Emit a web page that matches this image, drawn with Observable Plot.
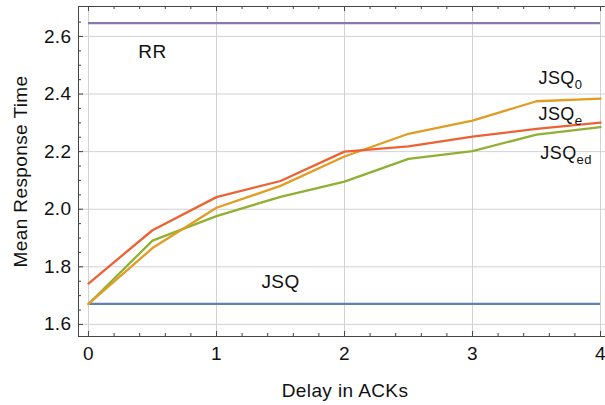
<!DOCTYPE html>
<html><head><meta charset="utf-8">
<script src="https://cdn.jsdelivr.net/npm/d3@7"></script>
<script src="https://cdn.jsdelivr.net/npm/@observablehq/plot@0.6"></script>
<style>html,body{margin:0;padding:0;background:#fff;overflow:hidden} svg{display:block}</style>
</head><body><div id="chart"></div>
<script>
// ---- data ----
const delays = [0, 0.5, 1, 1.5, 2, 2.5, 3, 3.5, 4];
const jsq0  = [1.671, 1.865, 2.005, 2.081, 2.183, 2.262, 2.308, 2.375, 2.384];
const jsqe  = [1.742, 1.927, 2.042, 2.098, 2.200, 2.218, 2.252, 2.279, 2.301];
const jsqed = [1.671, 1.891, 1.976, 2.043, 2.096, 2.175, 2.202, 2.259, 2.285];
const rrValue = 2.646;
const jsqValue = 1.671;

const xMajorTicks = [0, 1, 2, 3, 4];
const xMinorTicks = [0.2,0.4,0.6,0.8,1.2,1.4,1.6,1.8,2.2,2.4,2.6,2.8,3.2,3.4,3.6,3.8];
const yMajorTicks = [1.6, 1.8, 2.0, 2.2, 2.4, 2.6];
const yMinorTicks = [1.65,1.7,1.75,1.85,1.9,1.95,2.05,2.1,2.15,2.25,2.3,2.35,2.45,2.5,2.55,2.65];

// labels placed over the chart (centered)
const midLabelText = ["RR", "JSQ"];
const midLabelX = [0.5, 1.5];
const midLabelY = [2.548, 1.746];
// labels at the right end (left-aligned, with subscripts)
const endLabelText = ["JSQ", "JSQ", "JSQ"];
const endLabelSub  = ["0", "e", "ed"];
const endLabelX    = [3.516, 3.516, 3.53];
const endLabelY    = [2.454, 2.329, 2.193];

// colours
const cRR = "#8778B3", cJSQ = "#5E81B5", cJSQ0 = "#E19C24", cJSQe = "#EB6235", cJSQed = "#8FB032";

// ---- tables ----
const toRows = (vals) => delays.map((d, i) => ({x: d, y: vals[i]}));
const midLabels = midLabelText.map((t, i) => ({t, x: midLabelX[i], y: midLabelY[i]}));
const endLabels = endLabelText.map((t, i) => ({t, sub: endLabelSub[i], x: endLabelX[i], y: endLabelY[i]}));

const W = 607, H = 405, mL = 78, mR = 0, mT = 6, mB = 69;
const innerW = W - mL - mR, innerH = H - mT - mB;
const frameColor = "#444", gridColor = "#d2d2d2", textColor = "#111";

const svg = Plot.plot({
  width: W, height: H,
  marginLeft: mL, marginRight: mR, marginTop: mT, marginBottom: mB,
  style: {fontFamily: "'Liberation Sans', Arial, Helvetica, sans-serif", fontSize: "19px", letterSpacing: "0.4px",
          color: textColor, background: "#fff", overflow: "visible", maxWidth: "none"},
  x: {domain: [-0.078, 4.0547]},
  y: {domain: [1.558, 2.704]},
  marks: [
    Plot.gridX(xMajorTicks, {stroke: gridColor, strokeOpacity: 1}),
    Plot.gridY(yMajorTicks, {stroke: gridColor, strokeOpacity: 1}),
    // ticks (inward)
    Plot.tickX(xMajorTicks, {x: d => d, insetTop: innerH - 5, stroke: frameColor}),
    Plot.tickX(xMinorTicks, {x: d => d, insetTop: innerH - 3, stroke: frameColor}),
    Plot.tickX(xMajorTicks, {x: d => d, insetBottom: innerH - 5, stroke: frameColor}),
    Plot.tickX(xMinorTicks, {x: d => d, insetBottom: innerH - 3, stroke: frameColor}),
    Plot.tickY(yMajorTicks, {y: d => d, insetRight: innerW - 5, stroke: frameColor}),
    Plot.tickY(yMinorTicks, {y: d => d, insetRight: innerW - 3, stroke: frameColor}),
    Plot.frame({stroke: frameColor}),
    // tick labels
    Plot.axisX(xMajorTicks, {anchor: "bottom", tickSize: 0, tickPadding: 10, label: null, tickFormat: d3.format("d")}),
    Plot.axisY(yMajorTicks, {anchor: "left", tickSize: 0, tickPadding: 7, label: null, tickFormat: d3.format(".1f")}),
    // axis titles
    Plot.text(["Delay in ACKs"], {frameAnchor: "bottom", lineAnchor: "middle", dx: 2, dy: 54, fill: textColor}),
    Plot.text(["Mean Response Time"], {frameAnchor: "left", textAnchor: "middle", lineAnchor: "middle", rotate: -90, dx: -58, fill: textColor}),
    // data
    Plot.ruleY([rrValue], {x1: delays[0], x2: delays[delays.length - 1], stroke: cRR, strokeWidth: 2.3}),
    Plot.ruleY([jsqValue], {x1: delays[0], x2: delays[delays.length - 1], stroke: cJSQ, strokeWidth: 2.3}),
    Plot.line(toRows(jsqed), {x: "x", y: "y", stroke: cJSQed, strokeWidth: 2.3}),
    Plot.line(toRows(jsq0), {x: "x", y: "y", stroke: cJSQ0, strokeWidth: 2.3}),
    Plot.line(toRows(jsqe), {x: "x", y: "y", stroke: cJSQe, strokeWidth: 2.3}),
    // series labels
    Plot.text(midLabels, {x: "x", y: "y", text: "t", textAnchor: "middle", fill: textColor}),
    Plot.text(endLabels, {x: "x", y: "y", text: "t", textAnchor: "start", fontSize: 18, fill: textColor, className: "end-labels"})
  ]
});

// add subscripts
d3.select(svg).selectAll(".end-labels text").each(function(i) {
  const s = endLabels[i].sub;
  if (!s) return;
  d3.select(this).append("tspan")
    .attr("font-size", 13)
    .attr("dy", 5)
    .attr("font-style", s === "e" ? "italic" : null)
    .text(s);
});

document.getElementById("chart").appendChild(svg);
</script>
</body></html>
